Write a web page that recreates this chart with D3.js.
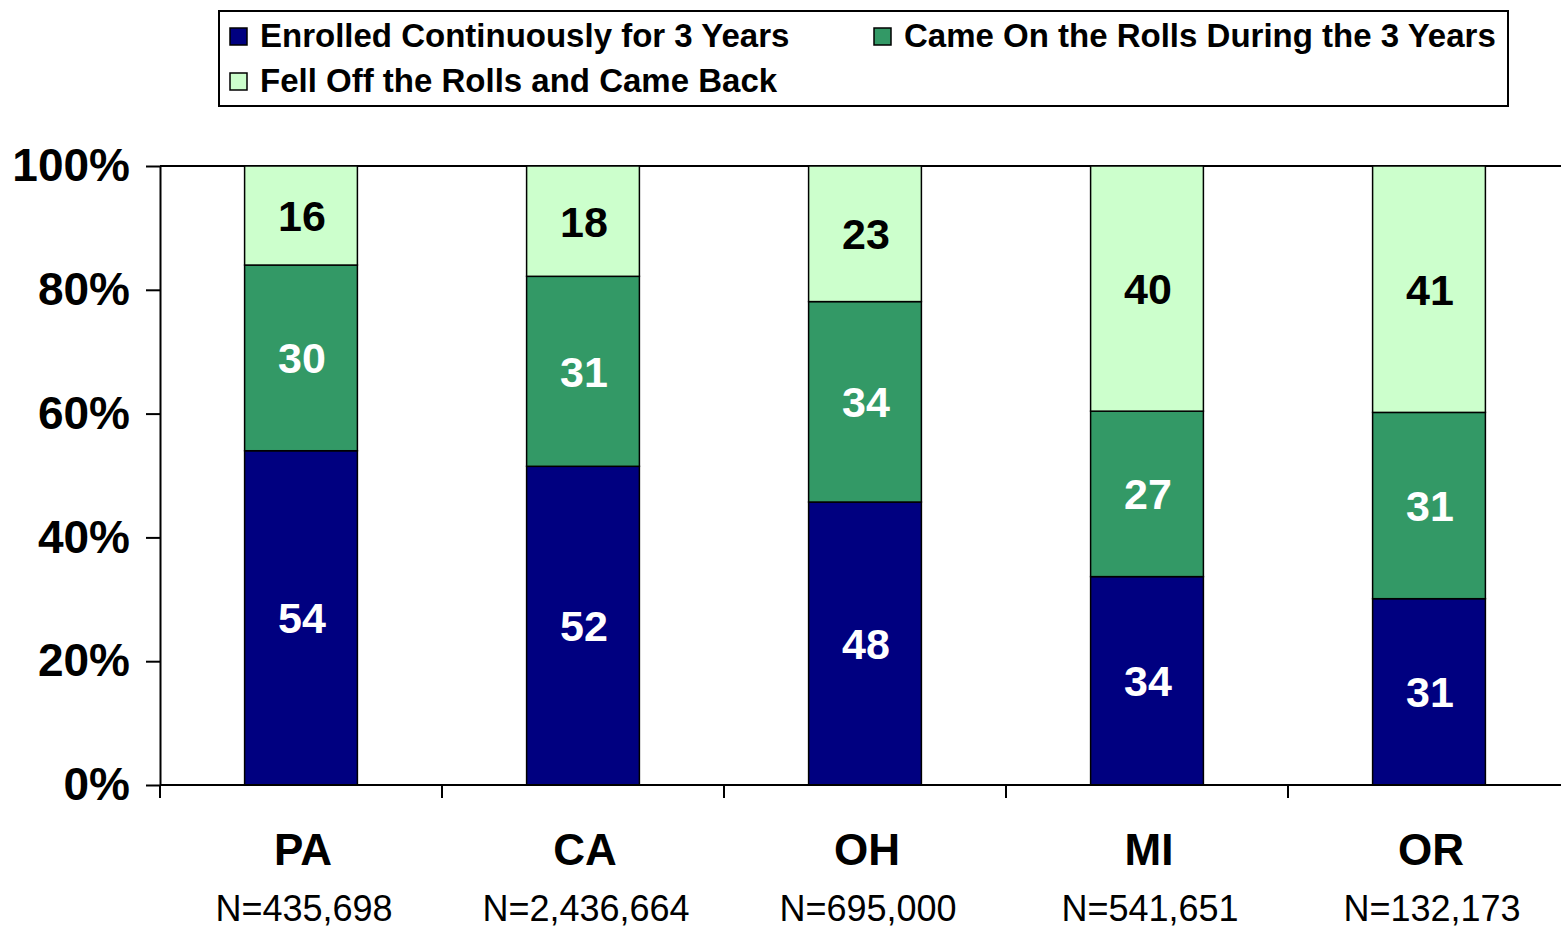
<!DOCTYPE html>
<html>
<head>
<meta charset="utf-8">
<script src="https://cdn.jsdelivr.net/npm/d3@7"></script>
<style>
  body { margin: 0; background: #fff; }
  svg { display: block; font-family: Arial, "Liberation Sans", sans-serif; }
</style>
</head>
<body>
<div id="chart"></div>
<script>
// data
var states = ['PA', 'CA', 'OH', 'MI', 'OR'];
var nLabels = ['N=435,698', 'N=2,436,664', 'N=695,000', 'N=541,651', 'N=132,173'];
var enrolled = [54, 52, 48, 34, 31];
var cameOn = [30, 31, 34, 27, 31];
var fellOff = [16, 18, 23, 40, 41];
var seriesNames = ['Enrolled Continuously for 3 Years', 'Came On the Rolls During the 3 Years', 'Fell Off the Rolls and Came Back'];
var yTicks = [0, 0.2, 0.4, 0.6, 0.8, 1];

var keys = ['enrolled', 'cameOn', 'fellOff'];
var colors = ['#000080', '#339966', '#CCFFCC'];
var labelColors = ['#fff', '#fff', '#000'];

var rows = states.map(function(s, i) {
    return { state: s, n: nLabels[i], enrolled: enrolled[i], cameOn: cameOn[i], fellOff: fellOff[i] };
});

var width = 1561, height = 930;
var plotLeft = 160, plotRight = 1570, plotTop = 166, plotBottom = 785;

var svg = d3.select('#chart').append('svg')
    .attr('width', width)
    .attr('height', height);

var x = d3.scaleBand()
    .domain(states)
    .range([plotLeft, plotRight])
    .paddingInner(0.6)
    .paddingOuter(0.3);

var y = d3.scaleLinear()
    .domain([0, 1])
    .range([plotBottom, plotTop]);

// stacked to 100%
var stack = d3.stack()
    .keys(keys)
    .offset(d3.stackOffsetExpand);
var series = stack(rows);

// top border of plot area
svg.append('line')
    .attr('x1', plotLeft).attr('x2', plotRight)
    .attr('y1', plotTop).attr('y2', plotTop)
    .attr('stroke', '#000').attr('stroke-width', 2);

var groups = svg.selectAll('.series')
    .data(series)
    .enter()
    .append('g')
    .attr('class', 'series');

groups.each(function(s, si) {
    var g = d3.select(this);
    g.selectAll('rect')
        .data(s)
        .enter()
        .append('rect')
        .attr('x', function(d) { return x(d.data.state); })
        .attr('y', function(d) { return y(d[1]); })
        .attr('width', x.bandwidth())
        .attr('height', function(d) { return y(d[0]) - y(d[1]); })
        .attr('fill', colors[si])
        .attr('stroke', '#000')
        .attr('stroke-width', 1.5);

    g.selectAll('text')
        .data(s)
        .enter()
        .append('text')
        .attr('x', function(d) { return x(d.data.state) + x.bandwidth() / 2 + 1; })
        .attr('y', function(d) { return (y(d[0]) + y(d[1])) / 2; })
        .attr('dy', '0.36em')
        .attr('text-anchor', 'middle')
        .attr('font-size', 43)
        .attr('font-weight', 'bold')
        .attr('fill', labelColors[si])
        .text(function(d) { return d.data[s.key]; });
});

// y axis
var yAxis = svg.append('g')
    .attr('transform', 'translate(' + plotLeft + ',0)')
    .call(d3.axisLeft(y).tickValues(yTicks).tickFormat(d3.format('.0%')).tickSize(14).tickSizeOuter(0).tickPadding(16));
yAxis.select('.domain').attr('stroke-width', 2);
yAxis.selectAll('.tick line').attr('stroke-width', 2);
yAxis.selectAll('.tick text')
    .attr('font-size', 46)
    .attr('font-weight', 'bold')
    .attr('font-family', 'Arial, "Liberation Sans", sans-serif')
    .attr('fill', '#000');

// x axis line and ticks on category boundaries
svg.append('line')
    .attr('x1', plotLeft).attr('x2', plotRight)
    .attr('y1', plotBottom).attr('y2', plotBottom)
    .attr('stroke', '#000').attr('stroke-width', 2);

var gap = (x.step() - x.bandwidth()) / 2;
svg.selectAll('.xtick')
    .data(states)
    .enter()
    .append('line')
    .attr('class', 'xtick')
    .attr('x1', function(d) { return x(d) - gap; })
    .attr('x2', function(d) { return x(d) - gap; })
    .attr('y1', plotBottom)
    .attr('y2', plotBottom + 13)
    .attr('stroke', '#000').attr('stroke-width', 2);

svg.selectAll('.cat')
    .data(rows)
    .enter()
    .append('text')
    .attr('class', 'cat')
    .attr('x', function(d) { return x(d.state) + x.bandwidth() / 2 + 2; })
    .attr('y', 865)
    .attr('text-anchor', 'middle')
    .attr('font-size', 44)
    .attr('font-weight', 'bold')
    .text(function(d) { return d.state; });

svg.selectAll('.nlab')
    .data(rows)
    .enter()
    .append('text')
    .attr('class', 'nlab')
    .attr('x', function(d) { return x(d.state) + x.bandwidth() / 2 + 3; })
    .attr('y', 921)
    .attr('text-anchor', 'middle')
    .attr('font-size', 36)
    .text(function(d) { return d.n; });

// legend
var legend = svg.append('g');
legend.append('rect')
    .attr('x', 219).attr('y', 11)
    .attr('width', 1289).attr('height', 95)
    .attr('fill', '#fff')
    .attr('stroke', '#000').attr('stroke-width', 2);

var legendPos = [[230, 28], [874, 28], [230, 73]];
var items = legend.selectAll('.item')
    .data(seriesNames)
    .enter()
    .append('g')
    .attr('class', 'item')
    .attr('transform', function(d, i) { return 'translate(' + legendPos[i][0] + ',' + legendPos[i][1] + ')'; });

items.append('rect')
    .attr('width', 17).attr('height', 17)
    .attr('fill', function(d, i) { return colors[i]; })
    .attr('stroke', '#000').attr('stroke-width', 1.5);

items.append('text')
    .attr('x', 30)
    .attr('y', 19)
    .attr('font-size', 33)
    .attr('font-weight', 'bold')
    .text(function(d) { return d; });
</script>
</body>
</html>
